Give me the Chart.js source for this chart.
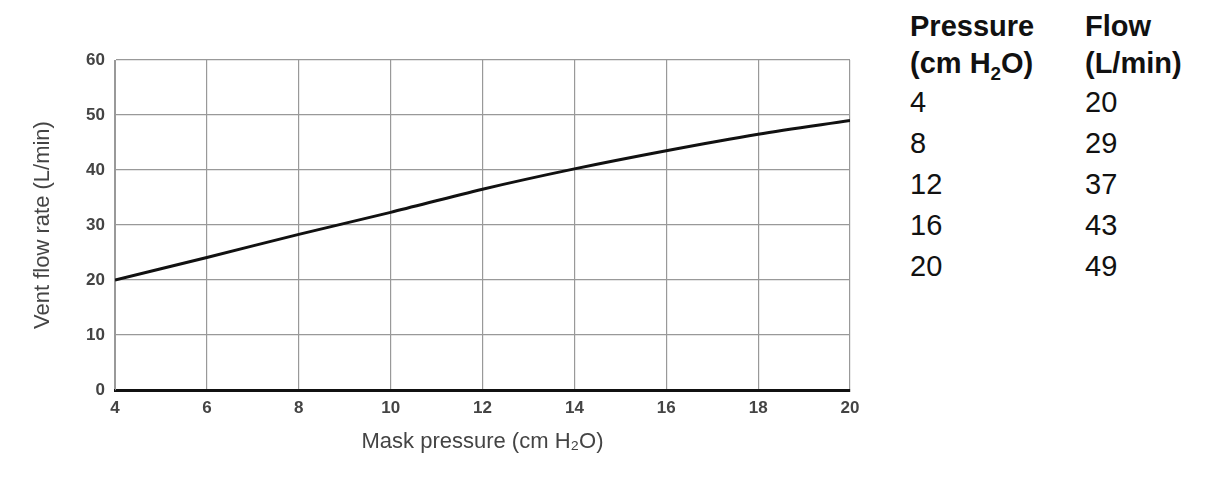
<!DOCTYPE html>
<html><head><meta charset="utf-8">
<script src="https://cdn.jsdelivr.net/npm/chart.js@4"></script>
<style>
body{margin:0;background:#fff;font-family:"Liberation Sans",Arial,sans-serif;}
#wrap{position:absolute;left:0;top:0;width:870px;height:481px;}
#tbl{position:absolute;left:910px;top:8px;font-size:29px;color:#111;line-height:41px;}
#tbl td{padding:0;vertical-align:top;}
#tbl th{text-align:left;font-weight:bold;padding:0;line-height:37px;}
#tbl .c1{width:175px;}
sub{font-size:65%;line-height:0;}
</style></head><body>
<div id="wrap"><canvas id="c"></canvas></div>
<table id="tbl" cellspacing="0" cellpadding="0">
<tr><th class="c1">Pressure<br>(cm H<sub>2</sub>O)</th><th>Flow<br>(L/min)</th></tr>
<tr><td>4</td><td>20</td></tr>
<tr><td>8</td><td>29</td></tr>
<tr><td>12</td><td>37</td></tr>
<tr><td>16</td><td>43</td></tr>
<tr><td>20</td><td>49</td></tr>
</table>
<script>
const pressures=[4,6,8,10,12,14,16,18,20];
const flows=[20,24.1,28.3,32.3,36.5,40.2,43.5,46.5,49];
const xTicks=[4,6,8,10,12,14,16,18,20];
const yTicks=[0,10,20,30,40,50,60];
new Chart(document.getElementById('c'),{
type:'line',
data:{datasets:[{data:pressures.map((p,i)=>({x:p,y:flows[i]})),borderColor:'#111',borderWidth:3,pointRadius:0,tension:0.3,fill:false}]},
options:{responsive:true,maintainAspectRatio:false,animation:false,
layout:{padding:{top:60,right:20,bottom:22,left:26}},
plugins:{legend:{display:false},tooltip:{enabled:false}},
scales:{
x:{type:'linear',min:4,max:20,afterBuildTicks:a=>{a.ticks=xTicks.map(v=>({value:v}));},
afterFit:a=>{a.height=69;},
grid:{color:'#999',lineWidth:1.2,drawTicks:false},border:{color:'#111',width:3},
ticks:{color:'#444',font:{size:17,weight:'bold'},padding:8},
title:{display:true,text:'Mask pressure (cm H₂O)',color:'#444',font:{size:22},padding:{top:4}}},
y:{min:0,max:60,afterBuildTicks:a=>{a.ticks=yTicks.map(v=>({value:v}));},
afterFit:a=>{a.width=89;},
grid:{color:'#999',lineWidth:1.2,drawTicks:false},border:{color:'#999'},
ticks:{color:'#444',font:{size:17,weight:'bold'},padding:10},
title:{display:true,text:'Vent flow rate (L/min)',color:'#444',font:{size:22},padding:{bottom:4}}}
}}});
</script></body></html>
